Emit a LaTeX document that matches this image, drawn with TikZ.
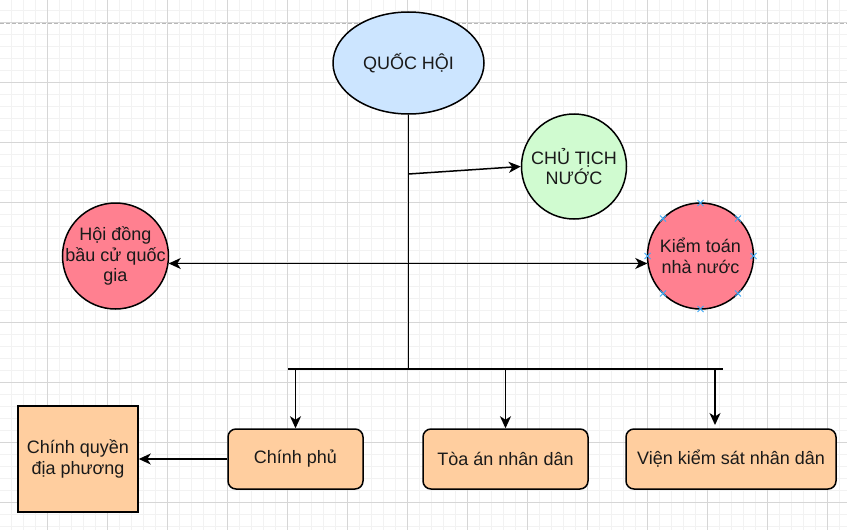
\documentclass[tikz,border=0pt]{standalone}
\usepackage{fontspec}
\setmainfont{Liberation Sans}
\usetikzlibrary{arrows.meta,shapes.geometric,calc}
\definecolor{gridminor}{HTML}{F2F2F2}
\definecolor{gridmajor}{HTML}{D6D6D6}
\definecolor{pagedash}{HTML}{B8B8B8}
\definecolor{qhfill}{HTML}{CCE5FF}
\definecolor{ctnfill}{HTML}{D0FBD0}
\definecolor{pinkfill}{HTML}{FF8090}
\definecolor{boxfill}{HTML}{FFCE9F}
\definecolor{txt}{HTML}{1A1A1A}
\definecolor{selblue}{HTML}{3FA9F5}
\begin{document}
\begin{tikzpicture}[x=1pt,y=-1pt,
  lbl/.style={font=\fontsize{18}{20.5}\selectfont, text=txt, align=center, inner sep=0pt},
  shp/.style={lbl, draw=black, line width=1.5pt},
  ovalnode/.style={shp, ellipse, minimum width=151pt, minimum height=102pt, fill=qhfill},
  roundnode/.style={shp, circle, minimum size=#1},
  boxnode/.style={shp, rounded corners=8pt, fill=boxfill, minimum height=60pt},
  sqnode/.style={shp, fill=boxfill},
  wire/.style={line width=1.5pt, draw=black},
  arr/.style={wire, -{Stealth[length=12pt,width=11pt,inset=3.5pt]}},
  darr/.style={wire, {Stealth[length=12pt,width=11pt,inset=3.5pt]}-{Stealth[length=12pt,width=11pt,inset=3.5pt]}},
  selmark/.style={draw=selblue, line width=1pt}
]
\useasboundingbox (0,0) rectangle (847,530);
\fill[white] (0,0) rectangle (847,530);
% grid
\foreach \gx in {11,23,...,847} \draw[gridminor, line width=0.8pt] (\gx,0) -- (\gx,530);
\foreach \gy in {10,22,...,530} \draw[gridminor, line width=0.8pt] (0,\gy) -- (847,\gy);
\foreach \gx in {47,107,...,847} \draw[gridmajor, line width=0.9pt] (\gx,0) -- (\gx,530);
\foreach \gy in {22,82,...,530} \draw[gridmajor, line width=0.9pt] (0,\gy) -- (847,\gy);
\draw[pagedash, line width=1pt, dash pattern=on 4pt off 2pt] (0,23) -- (847,23);

% nodes
\node[ovalnode] (qh) at (408.5,63) {QUỐC HỘI};
\node[roundnode=105pt, fill=ctnfill] (ctn) at (574,166.5) {CHỦ TỊCH\\NƯỚC};
\node[roundnode=106pt, fill=pinkfill, label={[lbl]center:{Hội đồng\\bầu cử quốc\\gia}}] (hd) at (115.5,256) {};
\node[roundnode=106pt, fill=pinkfill] (kt) at (700.5,256) {Kiểm toán\\nhà nước};
\node[boxnode, minimum width=135pt] (cp) at (295.5,459) {Chính phủ};
\node[boxnode, minimum width=165pt] (ta) at (505.5,459) {Tòa án nhân dân};
\node[boxnode, minimum width=210pt] (vks) at (731,459) {Viện kiểm sát nhân dân};
\node[sqnode, minimum width=120pt, minimum height=106pt] (cq) at (78,459) {Chính quyền\\địa phương};

% selection markers on kt
\foreach \a in {0,45,...,315}
  \draw[selmark] ($(kt.center)+(\a:53pt)+(-3pt,-3pt)$) -- ++(6pt,6pt)
                 ($(kt.center)+(\a:53pt)+(-3pt,3pt)$) -- ++(6pt,-6pt);

% coordinates
\coordinate (bus) at (408.5,369);
\coordinate (j1) at (408.5,174);
\coordinate (busL) at (288,369);
\coordinate (busR) at (723,369);
\coordinate (t1) at (cp.north |- busL);
\coordinate (t2) at (ta.north |- busL);
\coordinate (t3) at (715,369);
\coordinate (e3) at (715,425);

% connectors
\draw[wire] (qh.south) -- (bus);
\draw[arr] (j1) -- (ctn.west);
\draw[darr] (hd.-8.7) -- (kt.188.7);
\draw[wire] (busL) -- (busR);
\draw[arr] (t1) -- (cp.north);
\draw[arr] (t2) -- (ta.north);
\draw[arr] (t3) -- (e3);
\draw[arr] (cp.west) -- (cq.east);
\end{tikzpicture}
\end{document}
